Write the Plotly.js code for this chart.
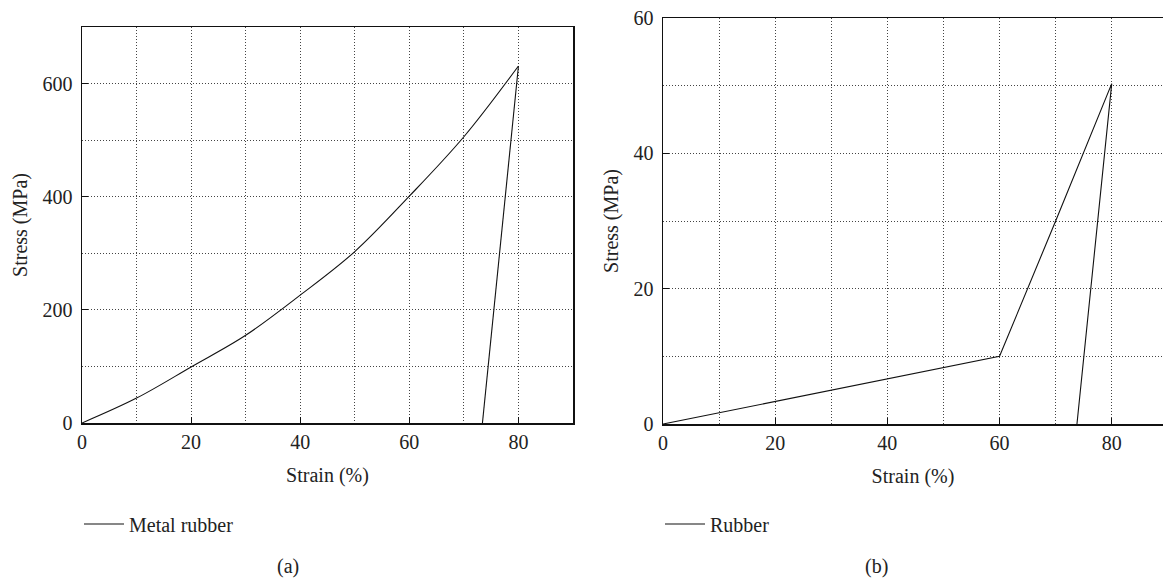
<!DOCTYPE html>
<html>
<head>
<meta charset="utf-8">
<script src="https://cdn.plot.ly/plotly-3.0.1.min.js"></script>
<style>html,body{margin:0;padding:0;background:#fff;}#chart{width:1163px;height:578px;}</style>
</head>
<body>
<div id="chart"></div>
<script>
// Panel (a): metal rubber — loading curve and unloading line
const loadStrainA = [0, 10, 20, 30, 40, 50, 60, 70, 80];
const loadStressA = [0, 44, 99, 155, 226, 303, 401, 506, 631];
const unloadStrainA = [80, 73.4];
const unloadStressA = [631, 0];
// Panel (b): rubber
const strainB = [0, 60, 70, 80, 73.8];
const stressB = [0, 10, 30, 50.3, 0];

const nameA = "Metal rubber";
const nameB = "Rubber";
const xTitle = "Strain (%)";
const yTitle = "Stress (MPa)";
const panelLabels = ["(a)", "(b)"];

const W = 1163, H = 578;
const FONT = "Liberation Serif, Times New Roman, serif";
const fs = 20;

function px(x){ return x / W; }
function py(y){ return 1 - y / H; }

const gridCol = "#444";
const gdash = "1px,2px";
function xAxis(domain, range, extra){
  return Object.assign({
    domain: domain, range: range, dtick: 20, tick0: 0,
    ticks: "inside", ticklen: 6, tickcolor: "#111", tickwidth: 1.2,
    showgrid: true, gridcolor: gridCol, griddash: gdash, gridwidth: 1,
    minor: {dtick: 10, tick0: 0, showgrid: true, gridcolor: gridCol, griddash: gdash, gridwidth: 1, ticks: ""},
    showline: true, linecolor: "#111", linewidth: 1.5,
    zeroline: false,
    tickfont: {family: FONT, size: fs, color: "#222"},
    title: {text: xTitle, font: {family: FONT, size: fs, color: "#222"}, standoff: 16},
    fixedrange: true
  }, extra || {});
}
function yAxis(domain, range, dtick, minorDtick, extra){
  return Object.assign({
    domain: domain, range: range, dtick: dtick, tick0: 0,
    ticks: "inside", ticklen: 6, tickcolor: "#111", tickwidth: 1.2,
    showgrid: true, gridcolor: gridCol, griddash: gdash, gridwidth: 1,
    minor: {dtick: minorDtick, tick0: 0, showgrid: true, gridcolor: gridCol, griddash: gdash, gridwidth: 1, ticks: ""},
    showline: true, linecolor: "#111", linewidth: 1.5,
    zeroline: false,
    tickfont: {family: FONT, size: fs, color: "#222"},
    ticklabelstandoff: 4,
    title: {text: yTitle, font: {family: FONT, size: fs, color: "#222"}, standoff: 9},
    fixedrange: true
  }, extra || {});
}

const lineStyle = {color: "#111", width: 1.1};
const traces = [
  {x: loadStrainA, y: loadStressA, mode: "lines", name: nameA, line: Object.assign({shape: "spline", smoothing: 1}, lineStyle),
   xaxis: "x", yaxis: "y", legend: "legend", legendgroup: "a"},
  {x: unloadStrainA, y: unloadStressA, mode: "lines", name: nameA, line: lineStyle, showlegend: false,
   xaxis: "x", yaxis: "y", legend: "legend", legendgroup: "a"},
  {x: strainB, y: stressB, mode: "lines", name: nameB, line: lineStyle,
   xaxis: "x2", yaxis: "y2", legend: "legend2"}
];

const layout = {
  width: W, height: H,
  margin: {l: 0, r: 0, t: 0, b: 0},
  paper_bgcolor: "#fff", plot_bgcolor: "#fff",
  showlegend: true,
  xaxis: xAxis([px(82), px(573)], [0, 90], {mirror: true}),
  yaxis: yAxis([py(423), py(27)], [0, 700], 200, 100, {mirror: true}),
  xaxis2: xAxis([px(663), 1], [0, 89.14], {mirror: true, anchor: "y2"}),
  yaxis2: yAxis([py(424), py(18)], [0, 60], 20, 10, {mirror: false, anchor: "x2"}),
  legend: {x: px(79), y: py(524), xanchor: "left", yanchor: "middle", itemwidth: 40,
           font: {family: FONT, size: fs, color: "#222"}, bgcolor: "rgba(0,0,0,0)"},
  legend2: {x: px(660), y: py(524), xanchor: "left", yanchor: "middle", itemwidth: 40,
           font: {family: FONT, size: fs, color: "#222"}, bgcolor: "rgba(0,0,0,0)"},
  annotations: [
    {text: panelLabels[0], x: px(288), y: py(566), xref: "paper", yref: "paper", showarrow: false,
     xanchor: "center", yanchor: "middle", font: {family: FONT, size: fs, color: "#222"}},
    {text: panelLabels[1], x: px(876), y: py(566), xref: "paper", yref: "paper", showarrow: false,
     xanchor: "center", yanchor: "middle", font: {family: FONT, size: fs, color: "#222"}}
  ]
};

Plotly.newPlot("chart", traces, layout, {staticPlot: true, displayModeBar: false});
</script>
</body>
</html>
